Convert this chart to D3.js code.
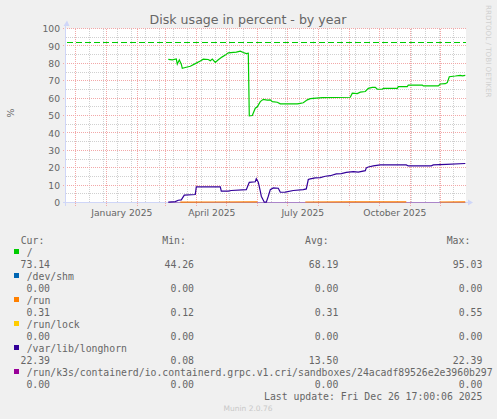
<!DOCTYPE html>
<html>
<head>
<meta charset="utf-8">
<script src="https://cdn.jsdelivr.net/npm/d3@7"></script>
<style>
  body { margin: 0; background: #f0f0f0; }
  svg { display: block; }
</style>
</head>
<body>
<div class="main"></div>
<script>
const parseDay = d3.timeParse("%Y-%m-%d")
const parseMonth = d3.timeParse("%Y-%m")

// "/" usage
const rootDates = ["2025-03-04","2025-03-08","2025-03-12","2025-03-13","2025-03-15","2025-03-17","2025-03-18","2025-03-21","2025-03-26","2025-03-31",
  "2025-04-05","2025-04-08","2025-04-13","2025-04-15","2025-04-17","2025-04-20","2025-04-23","2025-04-27","2025-04-30","2025-05-03",
  "2025-05-11","2025-05-15","2025-05-18","2025-05-21","2025-05-23","2025-05-24","2025-05-27","2025-05-30","2025-06-01","2025-06-04",
  "2025-06-07","2025-06-11","2025-06-14","2025-06-16","2025-06-21","2025-06-24","2025-07-11","2025-07-14","2025-07-17","2025-07-21",
  "2025-07-24","2025-08-05","2025-09-02","2025-09-04","2025-09-09","2025-09-12","2025-09-17","2025-09-20","2025-09-24","2025-09-27",
  "2025-09-29","2025-10-04","2025-10-05","2025-10-19","2025-10-20","2025-10-29","2025-10-30","2025-11-13","2025-11-14","2025-11-29",
  "2025-12-01","2025-12-06","2025-12-08","2025-12-10","2025-12-16","2025-12-21","2025-12-23","2025-12-26"]
const rootValues = [82.3,82.0,82.5,79.5,82.0,79.5,77.1,77.6,78.3,79.8,
  81.3,82.4,82.2,81.5,82.4,80.5,82.0,83.7,84.7,86.0,
  86.4,87.0,86.2,85.6,85.8,49.8,50.0,54.2,55.0,58.0,
  59.3,58.8,59.0,58.0,57.6,56.7,56.7,57.0,57.3,59.0,
  59.7,60.3,60.5,62.8,62.6,63.4,63.8,65.6,66.2,66.2,
  65.1,65.1,65.6,65.6,66.6,66.6,67.5,67.5,67.0,67.0,
  68.1,68.3,68.9,72.3,72.7,73.1,72.8,73.1]

const shmDates = ["2025-03-04","2025-12-26"]
const shmValues = [0, 0]

// /run has gaps (null = unknown)
const runDates = ["2025-03-16","2025-04-20","2025-06-01","2025-06-02","2025-07-19","2025-09-01","2025-10-28","2025-10-29","2025-12-01","2025-12-26"]
const runValues = [0.25, 0.3, 0.35, null, 0.3, 0.32, 0.35, null, 0.3, 0.31]

const lockDates = ["2025-03-04","2025-12-26"]
const lockValues = [0, 0]

const longhornDates = ["2025-03-04","2025-03-11","2025-03-14","2025-03-17","2025-03-20","2025-03-31","2025-04-01","2025-04-25","2025-04-26","2025-05-03",
  "2025-05-06","2025-05-21","2025-05-24","2025-05-30","2025-05-31","2025-06-02","2025-06-04","2025-06-05","2025-06-08","2025-06-10",
  "2025-06-12","2025-06-14","2025-06-17","2025-06-22","2025-06-24","2025-06-29","2025-07-07","2025-07-17","2025-07-20","2025-07-22",
  "2025-07-24","2025-07-29","2025-08-03","2025-08-08","2025-08-13","2025-08-19","2025-08-24","2025-08-29","2025-09-05","2025-09-10",
  "2025-09-17","2025-09-18","2025-09-20","2025-09-25","2025-10-02","2025-10-28","2025-10-30","2025-11-22","2025-11-24","2025-12-07",
  "2025-12-26"]
const longhornValues = [0.2,0.5,1.3,1.5,4.2,4.6,9.0,9.0,6.5,6.5,
  6.9,7.4,11.6,11.9,13.7,11.6,6.5,3.6,0.2,0.2,
  3.6,7.4,8.4,8.2,5.9,6.0,6.9,7.4,7.8,13.2,
  13.6,14.1,14.3,15.1,15.4,16.4,16.6,17.3,17.7,17.5,
  18.3,19.9,20.4,21.0,21.6,21.6,21.0,21.1,21.6,21.9,
  22.4]

const k3sDates = ["2025-03-04","2025-12-26"]
const k3sValues = [0, 0]

const warnLevel = 92

// legend
const names = ["/", "/dev/shm", "/run", "/run/lock", "/var/lib/longhorn",
  "/run/k3s/containerd/io.containerd.grpc.v1.cri/sandboxes/24acadf89526e2e3960b297"]
const colors = ["#00cc00", "#0066b3", "#ff8000", "#ffcc00", "#330099", "#990099"]
const curValues = [73.14, 0, 0.31, 0, 22.39, 0]
const minValues = [44.26, 0, 0.12, 0, 0.08, 0]
const avgValues = [68.19, 0, 0.31, 0, 13.50, 0]
const maxValues = [95.03, 0, 0.55, 0, 22.39, 0]

const yTicks = [0, 10, 20, 30, 40, 50, 60, 70, 80, 90, 100]
const xLabelMonths = ["2025-01", "2025-04", "2025-07", "2025-10"]

const endTime = new Date(2025, 11, 26, 17, 0, 6)
const startTime = d3.timeDay.offset(endTime, -400)

const width = 497, height = 419
const plot = ({left: 66, right: 466, top: 28.5, bottom: 202.5})
const textColor = "#666666"
const axisColor = "#cfd6f8"

const svg = d3.select(".main").append("svg")
  .attr("width", width)
  .attr("height", height)
  .attr("viewBox", [0, 0, width, height])

const x = d3.scaleTime().domain([startTime, endTime]).range([plot.left, plot.right])
const y = d3.scaleLinear().domain([0, 100]).range([plot.bottom, plot.top])

svg.append("rect")
  .attr("width", width).attr("height", height)
  .attr("fill", "#f0f0f0")

svg.append("rect")
  .attr("x", plot.left).attr("y", plot.top)
  .attr("width", plot.right - plot.left).attr("height", plot.bottom - plot.top)
  .attr("fill", "#ffffff")

// grid
const grid = svg.append("g").attr("shape-rendering", "crispEdges").attr("stroke-width", 1)

const dec1 = new Date(2024, 11, 1)
const minorX = d3.timeWeek.range(startTime, endTime)
  .filter(d => Math.round((d - dec1) / (7 * 864e5)) % 2 === 0)
const majorX = d3.timeMonth.range(startTime, endTime)
const minorY = d3.range(5, 100, 10)

grid.selectAll(".minx").data(minorX).join("line")
  .attr("x1", d => Math.round(x(d)) + 0.5).attr("x2", d => Math.round(x(d)) + 0.5)
  .attr("y1", plot.top).attr("y2", plot.bottom)
  .attr("stroke", "#d0d0d0").attr("stroke-dasharray", "1,1")

grid.selectAll(".miny").data(minorY).join("line")
  .attr("x1", plot.left).attr("x2", plot.right)
  .attr("y1", d => Math.floor(y(d)) + 0.5).attr("y2", d => Math.floor(y(d)) + 0.5)
  .attr("stroke", "#d0d0d0").attr("stroke-dasharray", "1,1")

grid.selectAll(".majx").data(majorX).join("line")
  .attr("x1", d => Math.round(x(d)) + 0.5).attr("x2", d => Math.round(x(d)) + 0.5)
  .attr("y1", plot.top).attr("y2", plot.bottom + 3)
  .attr("stroke", "#f2a8a8").attr("stroke-dasharray", "1,1")

grid.selectAll(".majy").data(yTicks.slice(1)).join("line")
  .attr("x1", plot.left - 3).attr("x2", plot.right)
  .attr("y1", d => Math.floor(y(d)) + 0.5).attr("y2", d => Math.floor(y(d)) + 0.5)
  .attr("stroke", "#f2a8a8").attr("stroke-dasharray", "1,1")

// axis lines + arrows
svg.append("line")
  .attr("x1", plot.left - 3).attr("x2", plot.right + 3)
  .attr("y1", y(0)).attr("y2", y(0))
  .attr("stroke", axisColor).attr("shape-rendering", "crispEdges")
svg.append("line")
  .attr("x1", plot.left - 0.5).attr("x2", plot.left - 0.5)
  .attr("y1", y(0) + 3).attr("y2", plot.top - 5)
  .attr("stroke", axisColor).attr("shape-rendering", "crispEdges")
svg.append("path")
  .attr("d", `M${plot.left + 1},${plot.top - 8} L${plot.left - 2.5},${plot.top - 2.5} L${plot.left + 3.5},${plot.top - 2.5} Z`)
  .attr("fill", axisColor)
svg.append("path")
  .attr("d", `M${plot.right + 7},${y(0)} L${plot.right + 2},${y(0) - 3} L${plot.right + 2},${y(0) + 3} Z`)
  .attr("fill", axisColor)

// data
svg.append("clipPath").attr("id", "plotclip")
  .append("rect")
  .attr("x", plot.left).attr("y", plot.top - 5)
  .attr("width", plot.right - plot.left).attr("height", plot.bottom - plot.top + 5.5)

const series = [
  {dates: rootDates, values: rootValues},
  {dates: shmDates, values: shmValues},
  {dates: runDates, values: runValues},
  {dates: lockDates, values: lockValues},
  {dates: longhornDates, values: longhornValues},
  {dates: k3sDates, values: k3sValues}
].map((s, i) => ({
  color: colors[i],
  flat: s.values.every(v => v === 0),
  points: s.dates.map((d, j) => ({date: parseDay(d), value: s.values[j]}))
}))

// the all-zero series sit on the axis; rrdtool half-covers them, so draw them first and faint
const zeroOpacity = {"#0066b3": 0.15, "#ffcc00": 0.05, "#990099": 0.32}
const ordered = series.filter(s => s.flat).concat(series.filter(s => !s.flat))

const line = d3.line()
  .defined(d => d.value !== null)
  .x(d => x(d.date))
  .y(d => y(d.value))

svg.append("g")
  .attr("clip-path", "url(#plotclip)")
  .selectAll("path")
  .data(ordered)
  .join("path")
    .attr("d", d => line(d.points))
    .attr("fill", "none")
    .attr("stroke", d => d.color)
    .attr("stroke-opacity", d => d.flat ? zeroOpacity[d.color] : 1)
    .attr("stroke-width", d => d.flat ? 1 : 1.2)

// warning level
svg.append("line")
  .attr("x1", plot.left + 1).attr("x2", plot.right)
  .attr("y1", Math.floor(y(warnLevel)) + 0.5).attr("y2", Math.floor(y(warnLevel)) + 0.5)
  .attr("stroke", "#00cc00")
  .attr("stroke-dasharray", "6,3")

// axes text
const yAxis = svg.append("g")
  .attr("transform", `translate(${plot.left},0)`)
  .call(d3.axisLeft(y).tickValues(yTicks).tickSize(0).tickPadding(6))
yAxis.select(".domain").remove()
yAxis.selectAll("text")
  .attr("fill", textColor)
  .attr("font-family", "DejaVu Sans")
  .attr("font-size", 9.2)
  .attr("dy", "0.35em")

const xAxis = svg.append("g")
  .attr("transform", `translate(0,${y(0)})`)
  .call(d3.axisBottom(x)
    .tickValues(xLabelMonths.map(m => d3.timeDay.offset(parseMonth(m), 15)))
    .tickFormat(d3.timeFormat("%B %Y"))
    .tickSize(0).tickPadding(6.5))
xAxis.select(".domain").remove()
xAxis.selectAll("text")
  .attr("fill", textColor)
  .attr("font-family", "DejaVu Sans")
  .attr("font-size", 9.2)

svg.append("text")
  .attr("x", 248).attr("y", 24)
  .attr("text-anchor", "middle")
  .attr("fill", textColor)
  .attr("font-family", "DejaVu Sans")
  .attr("font-size", 12.6)
  .text("Disk usage in percent - by year")

svg.append("text")
  .attr("transform", "translate(13.5,113) rotate(-90)")
  .attr("text-anchor", "middle")
  .attr("fill", textColor)
  .attr("font-family", "DejaVu Sans")
  .attr("font-size", 9.5)
  .text("%")

svg.append("text")
  .attr("transform", "translate(486,5) rotate(90)")
  .attr("fill", "#d0d0d0")
  .attr("font-family", "DejaVu Sans")
  .attr("font-size", 7.2)
  .text("RRDTOOL / TOBI OETIKER")

// legend
const legend = svg.append("g")
  .attr("font-family", "DejaVu Sans Mono")
  .attr("font-size", 9.8)
  .attr("fill", textColor)

const colX = [50, 194, 338.3, 482.3]
const headX = [20.7, 162.3, 305, 446.7]
const rowH = 12
const top0 = 244

legend.selectAll(".head").data(["Cur:", "Min:", "Avg:", "Max:"]).join("text")
  .attr("x", (_, i) => headX[i]).attr("y", top0)
  .text(d => d)

names.forEach((name, i) => {
  const base = top0 + rowH * (1 + 2 * i)
  legend.append("rect")
    .attr("x", 14).attr("y", base - 7)
    .attr("width", 5).attr("height", 5)
    .attr("fill", colors[i])
  legend.append("text")
    .attr("x", 26.7).attr("y", base)
    .text(name)
  const vals = [curValues[i], minValues[i], avgValues[i], maxValues[i]]
  vals.forEach((v, j) => {
    legend.append("text")
      .attr("x", colX[j]).attr("y", base + rowH)
      .attr("text-anchor", "end")
      .text(v.toFixed(2))
  })
})

legend.append("text")
  .attr("x", colX[3]).attr("y", top0 + rowH * 13)
  .attr("text-anchor", "end")
  .text("Last update: Fri Dec 26 17:00:06 2025")

svg.append("text")
  .attr("x", 248).attr("y", 410.5)
  .attr("text-anchor", "middle")
  .attr("fill", "#c8c8c8")
  .attr("font-family", "DejaVu Sans")
  .attr("font-size", 7.5)
  .text("Munin 2.0.76")
</script>
</body>
</html>
